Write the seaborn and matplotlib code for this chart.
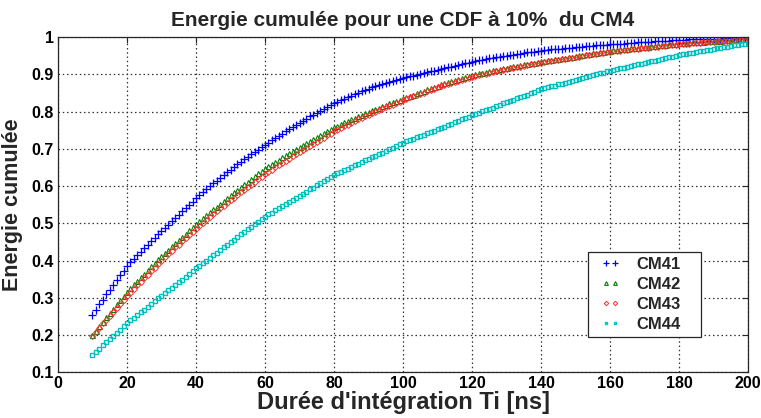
import numpy as np
import pandas as pd
import matplotlib
matplotlib.use("Agg")
import matplotlib.pyplot as plt
from matplotlib.legend_handler import HandlerLine2D
import seaborn as sns

# ---------------- data ----------------
ti = list(range(10, 201))

cm41 = [0.254, 0.268, 0.282, 0.295, 0.309, 0.322, 0.335, 0.348, 0.360, 0.373,
        0.385, 0.395, 0.405, 0.415, 0.424, 0.434, 0.443, 0.452, 0.461, 0.470,
        0.478, 0.487, 0.496, 0.505, 0.514, 0.523, 0.532, 0.541, 0.550, 0.558,
        0.567, 0.575, 0.583, 0.591, 0.599, 0.607, 0.614, 0.622, 0.630, 0.637,
        0.644, 0.651, 0.658, 0.665, 0.672, 0.679, 0.685, 0.692, 0.698, 0.705,
        0.711, 0.717, 0.723, 0.729, 0.735, 0.741, 0.747, 0.753, 0.759, 0.765,
        0.770, 0.776, 0.781, 0.787, 0.792, 0.797, 0.802, 0.808, 0.813, 0.818,
        0.823, 0.827, 0.831, 0.835, 0.839, 0.843, 0.847, 0.851, 0.855, 0.858,
        0.862, 0.865, 0.868, 0.871, 0.874, 0.877, 0.879, 0.882, 0.885, 0.887,
        0.890, 0.892, 0.895, 0.897, 0.899, 0.901, 0.904, 0.906, 0.908, 0.910,
        0.913, 0.915, 0.917, 0.919, 0.921, 0.923, 0.926, 0.928, 0.930, 0.932,
        0.934, 0.936, 0.938, 0.939, 0.941, 0.943, 0.944, 0.946, 0.947, 0.949,
        0.950, 0.952, 0.953, 0.955, 0.956, 0.958, 0.959, 0.960, 0.961, 0.963,
        0.964, 0.965, 0.966, 0.967, 0.968, 0.969, 0.969, 0.970, 0.971, 0.972,
        0.973, 0.974, 0.975, 0.976, 0.976, 0.977, 0.978, 0.979, 0.979, 0.980,
        0.981, 0.981, 0.982, 0.983, 0.983, 0.984, 0.985, 0.985, 0.986, 0.986,
        0.987, 0.988, 0.988, 0.989, 0.989, 0.990, 0.990, 0.991, 0.992, 0.992,
        0.993, 0.993, 0.993, 0.994, 0.994, 0.994, 0.995, 0.995, 0.995, 0.996,
        0.996, 0.996, 0.996, 0.997, 0.997, 0.997, 0.997, 0.998, 0.998, 0.998,
        0.998]

cm42 = [0.200, 0.212, 0.224, 0.236, 0.247, 0.259, 0.271, 0.282, 0.294, 0.305,
        0.316, 0.326, 0.336, 0.345, 0.355, 0.365, 0.374, 0.384, 0.393, 0.403,
        0.412, 0.421, 0.429, 0.438, 0.447, 0.455, 0.464, 0.472, 0.481, 0.489,
        0.498, 0.506, 0.514, 0.522, 0.530, 0.538, 0.545, 0.553, 0.561, 0.568,
        0.576, 0.583, 0.590, 0.598, 0.605, 0.612, 0.619, 0.627, 0.634, 0.641,
        0.648, 0.654, 0.660, 0.666, 0.671, 0.677, 0.683, 0.689, 0.695, 0.700,
        0.706, 0.711, 0.716, 0.722, 0.727, 0.732, 0.737, 0.742, 0.748, 0.753,
        0.758, 0.762, 0.767, 0.771, 0.775, 0.779, 0.783, 0.788, 0.792, 0.796,
        0.800, 0.804, 0.807, 0.811, 0.815, 0.818, 0.822, 0.825, 0.829, 0.832,
        0.836, 0.839, 0.843, 0.846, 0.850, 0.853, 0.856, 0.860, 0.863, 0.867,
        0.870, 0.873, 0.876, 0.879, 0.882, 0.885, 0.887, 0.890, 0.893, 0.896,
        0.899, 0.901, 0.903, 0.905, 0.907, 0.909, 0.911, 0.913, 0.915, 0.916,
        0.918, 0.920, 0.922, 0.923, 0.925, 0.927, 0.929, 0.930, 0.932, 0.933,
        0.935, 0.937, 0.938, 0.940, 0.941, 0.942, 0.944, 0.945, 0.947, 0.948,
        0.950, 0.951, 0.953, 0.954, 0.955, 0.957, 0.958, 0.960, 0.961, 0.962,
        0.964, 0.965, 0.966, 0.967, 0.968, 0.969, 0.970, 0.971, 0.972, 0.973,
        0.974, 0.975, 0.976, 0.977, 0.978, 0.979, 0.980, 0.981, 0.982, 0.983,
        0.984, 0.985, 0.985, 0.986, 0.987, 0.987, 0.988, 0.988, 0.989, 0.990,
        0.990, 0.991, 0.991, 0.992, 0.992, 0.993, 0.994, 0.994, 0.995, 0.995,
        0.996]

cm43 = [0.198, 0.209, 0.220, 0.231, 0.241, 0.252, 0.263, 0.273, 0.284, 0.294,
        0.304, 0.314, 0.324, 0.333, 0.343, 0.353, 0.362, 0.372, 0.381, 0.391,
        0.400, 0.409, 0.417, 0.426, 0.435, 0.443, 0.452, 0.460, 0.469, 0.477,
        0.486, 0.494, 0.502, 0.509, 0.517, 0.525, 0.532, 0.540, 0.547, 0.554,
        0.562, 0.569, 0.576, 0.583, 0.590, 0.597, 0.604, 0.611, 0.618, 0.625,
        0.632, 0.638, 0.644, 0.650, 0.656, 0.662, 0.668, 0.674, 0.680, 0.686,
        0.692, 0.697, 0.703, 0.709, 0.714, 0.719, 0.725, 0.730, 0.736, 0.741,
        0.747, 0.751, 0.756, 0.761, 0.765, 0.769, 0.774, 0.779, 0.783, 0.788,
        0.792, 0.796, 0.800, 0.804, 0.808, 0.812, 0.816, 0.819, 0.823, 0.827,
        0.831, 0.834, 0.838, 0.841, 0.845, 0.848, 0.851, 0.855, 0.858, 0.862,
        0.865, 0.868, 0.871, 0.874, 0.877, 0.880, 0.882, 0.885, 0.888, 0.891,
        0.894, 0.896, 0.898, 0.900, 0.902, 0.904, 0.906, 0.908, 0.910, 0.912,
        0.914, 0.916, 0.918, 0.919, 0.921, 0.923, 0.925, 0.927, 0.929, 0.930,
        0.932, 0.934, 0.935, 0.937, 0.938, 0.939, 0.941, 0.942, 0.944, 0.945,
        0.947, 0.948, 0.950, 0.951, 0.952, 0.954, 0.955, 0.957, 0.958, 0.959,
        0.961, 0.962, 0.963, 0.964, 0.965, 0.966, 0.967, 0.968, 0.969, 0.970,
        0.971, 0.972, 0.973, 0.974, 0.975, 0.976, 0.977, 0.978, 0.979, 0.980,
        0.981, 0.982, 0.982, 0.983, 0.984, 0.984, 0.985, 0.986, 0.986, 0.987,
        0.988, 0.989, 0.989, 0.990, 0.990, 0.991, 0.992, 0.993, 0.993, 0.994,
        0.995]

cm44 = [0.146, 0.155, 0.163, 0.172, 0.180, 0.189, 0.197, 0.206, 0.214, 0.223,
        0.231, 0.239, 0.246, 0.253, 0.261, 0.268, 0.276, 0.283, 0.290, 0.298,
        0.305, 0.313, 0.320, 0.327, 0.335, 0.342, 0.349, 0.357, 0.364, 0.372,
        0.379, 0.386, 0.393, 0.400, 0.407, 0.414, 0.421, 0.428, 0.435, 0.442,
        0.449, 0.456, 0.463, 0.470, 0.477, 0.484, 0.490, 0.497, 0.504, 0.511,
        0.518, 0.524, 0.529, 0.535, 0.540, 0.546, 0.552, 0.557, 0.563, 0.568,
        0.574, 0.580, 0.585, 0.591, 0.596, 0.602, 0.608, 0.613, 0.619, 0.624,
        0.630, 0.634, 0.639, 0.643, 0.647, 0.652, 0.656, 0.660, 0.664, 0.669,
        0.673, 0.677, 0.682, 0.686, 0.690, 0.695, 0.699, 0.703, 0.707, 0.712,
        0.716, 0.720, 0.723, 0.727, 0.731, 0.735, 0.738, 0.742, 0.746, 0.749,
        0.753, 0.757, 0.760, 0.764, 0.768, 0.772, 0.775, 0.779, 0.783, 0.786,
        0.790, 0.794, 0.797, 0.801, 0.804, 0.808, 0.811, 0.815, 0.818, 0.822,
        0.825, 0.829, 0.832, 0.836, 0.839, 0.843, 0.846, 0.850, 0.853, 0.857,
        0.860, 0.863, 0.865, 0.868, 0.870, 0.873, 0.875, 0.878, 0.880, 0.883,
        0.885, 0.888, 0.890, 0.893, 0.895, 0.898, 0.900, 0.903, 0.905, 0.908,
        0.910, 0.912, 0.914, 0.916, 0.918, 0.921, 0.923, 0.925, 0.927, 0.929,
        0.931, 0.933, 0.935, 0.937, 0.939, 0.942, 0.944, 0.946, 0.948, 0.950,
        0.952, 0.954, 0.955, 0.957, 0.958, 0.960, 0.962, 0.963, 0.965, 0.966,
        0.968, 0.970, 0.971, 0.973, 0.974, 0.976, 0.978, 0.979, 0.981, 0.982,
        0.984]

series_names = ["CM41", "CM42", "CM43", "CM44"]
x_ticks = [0, 20, 40, 60, 80, 100, 120, 140, 160, 180, 200]
y_ticks = [0.1, 0.2, 0.3, 0.4, 0.5, 0.6, 0.7, 0.8, 0.9, 1.0]
y_tick_labels = ["0.1", "0.2", "0.3", "0.4", "0.5", "0.6", "0.7", "0.8", "0.9", "1"]

df = pd.DataFrame({"Ti": ti * 4,
                   "E": cm41 + cm42 + cm43 + cm44,
                   "serie": sum([[n] * len(ti) for n in series_names], [])})

# ---------------- style ----------------
sns.set_theme(style="white")
plt.rcParams["font.family"] = ["Liberation Sans Narrow", "Liberation Sans", "DejaVu Sans"]
plt.rcParams["font.weight"] = "bold"

fig = plt.figure(figsize=(7.61, 4.18), dpi=100)
ax = fig.add_axes([0.0762, 0.1096, 0.9068, 0.8014])

styles = {
    "CM41": dict(color="#0000ff", marker="+", ms=5.5, mew=0.9, mfc="none"),
    "CM42": dict(color="#008000", marker="^", ms=3.6, mew=0.8, mfc="none"),
    "CM43": dict(color="#ff3030", marker="D", ms=3.0, mew=0.7, mfc="none"),
    "CM44": dict(color="#00bfbf", marker="s", ms=2.8, mew=1.0, mfc="none"),
}

for name in series_names:
    st = styles[name]
    sub = df[df["serie"] == name]
    sns.lineplot(data=sub, x="Ti", y="E", ax=ax, linestyle="none",
                 marker=st["marker"], markersize=st["ms"],
                 markeredgewidth=st["mew"], markerfacecolor=st["mfc"],
                 markeredgecolor=st["color"], color=st["color"],
                 label=name, estimator=None, errorbar=None, sort=False)

ax.set_xlim(0, 200)
ax.set_ylim(0.1, 1.0)
ax.set_xticks(x_ticks)
ax.set_yticks(y_ticks)
ax.set_yticklabels(y_tick_labels)
ax.tick_params(axis="both", which="both", direction="in", length=4, width=0.8,
               colors="#262626", labelcolor="black", labelsize=11.5,
               top=True, right=True, pad=3)
for lab in ax.get_xticklabels() + ax.get_yticklabels():
    lab.set_fontweight("bold")

ax.grid(True, linestyle=(0, (1.2, 2.2)), color="#333333", linewidth=0.9)
for sp in ax.spines.values():
    sp.set_color("#262626")
    sp.set_linewidth(0.9)

ax.set_xlabel("Durée d'intégration Ti [ns]", fontsize=17, fontweight="bold", labelpad=0)
ax.set_ylabel("Energie cumulée", fontsize=15.5, fontweight="bold", labelpad=6)
ax.set_title("Energie cumulée pour une CDF à 10%  du CM4", fontsize=15,
             fontweight="bold", pad=8)

hmap = {h: HandlerLine2D(numpoints=2, marker_pad=0.8) for h in ax.get_lines()}
leg = ax.legend(loc="lower left", bbox_to_anchor=(0.768, 0.105, 0.164, 0.26),
                mode="expand", numpoints=2, handler_map=hmap,
                frameon=True, fancybox=False, edgecolor="#262626",
                prop={"weight": "bold", "size": 12}, handlelength=2.1,
                borderpad=0.3, labelspacing=0.3, handletextpad=0.5,
                borderaxespad=0.0, markerscale=0.75)
leg.get_frame().set_linewidth(0.9)
leg.get_frame().set_alpha(1.0)

fig.savefig("out.png", dpi=100)
